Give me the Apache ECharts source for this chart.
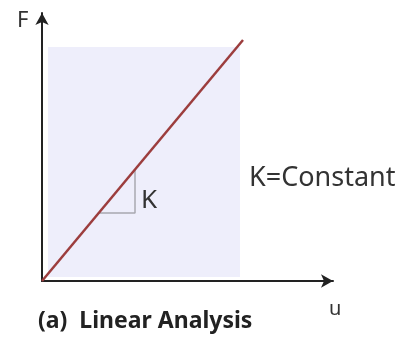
<!DOCTYPE html>
<html>
<head>
<meta charset="utf-8">
<script src="https://cdn.jsdelivr.net/npm/echarts@6/dist/echarts.min.js"></script>
<style>
  html, body { margin: 0; padding: 0; background: #fff; }
  #chart { width: 400px; height: 340px; }
</style>
</head>
<body>
<div id="chart"></div>
<script>
// F = K * u  (linear, K constant)
var lineData = [[0, 0], [201, 241]];
var slopeTri = [[57, 68], [93, 68], [93, 112]];
var areaBox = [[6, 4], [198, 234]];
var axisNames = ['u', 'F'];
var slopeLabel = 'K';
var noteText = 'K=Constant';
var captionText = '(a)  Linear Analysis';

var chart = echarts.init(document.querySelector('#chart'));

var option = {
    backgroundColor: '#fff',
    animation: false,
    grid: { left: 42, right: 67, top: 13, bottom: 59 },
    xAxis: {
        type: 'value',
        min: 0,
        max: 291,
        splitLine: { show: false },
        axisTick: { show: false },
        axisLabel: { show: false },
        axisLine: {
            show: true,
            symbol: ['none', 'arrow'],
            symbolSize: [10, 12],
            lineStyle: { color: '#222', width: 2 }
        }
    },
    yAxis: {
        type: 'value',
        min: 0,
        max: 268,
        splitLine: { show: false },
        axisTick: { show: false },
        axisLabel: { show: false },
        axisLine: {
            show: true,
            symbol: ['none', 'arrow'],
            symbolSize: [10, 12],
            lineStyle: { color: '#222', width: 2 }
        }
    },
    series: [
        {
            type: 'line',
            data: lineData,
            symbol: 'none',
            z: 3,
            lineStyle: { color: '#9c3d3d', width: 2.5 },
            markArea: {
                silent: true,
                itemStyle: { color: '#eeeefb' },
                data: [[{ coord: areaBox[0] }, { coord: areaBox[1] }]]
            }
        },
        {
            type: 'line',
            data: slopeTri,
            symbol: 'none',
            z: 2,
            lineStyle: { color: '#a8a8b0', width: 1.5 }
        }
    ],
    graphic: [
        { type: 'text', z: 100, left: 17, top: 10, style: { text: axisNames[1], font: '22px "Noto Sans"', fill: '#333' } },
        { type: 'text', left: 329, top: 299, z: 100, style: { text: axisNames[0], font: '20px "Noto Sans"', fill: '#333' } },
        { type: 'text', left: 141, top: 188, z: 100, style: { text: slopeLabel, font: '26px "Noto Sans"', fill: '#333' } },
        { type: 'text', left: 249, top: 165, z: 100, style: { text: noteText, font: '27px "Noto Sans"', fill: '#333' } },
        { type: 'text', left: 38, top: 310, z: 100, style: { text: captionText, font: 'bold 23px "Noto Sans"', fill: '#222' } }
    ]
};

chart.setOption(option);
</script>
</body>
</html>
